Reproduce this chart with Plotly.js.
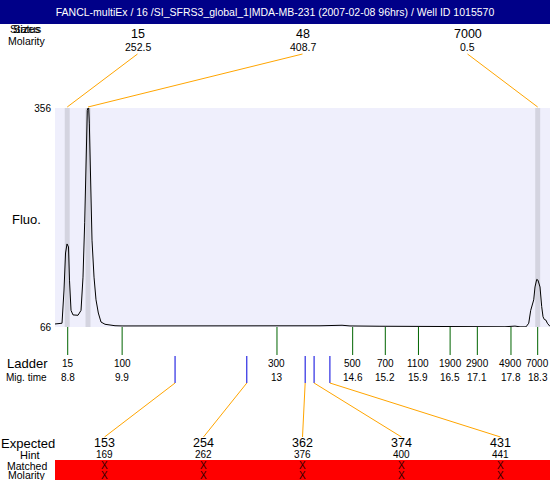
<!DOCTYPE html>
<html><head><meta charset="utf-8">
<script src="https://cdn.plot.ly/plotly-3.0.1.min.js"></script>
<style>html,body{margin:0;padding:0;background:#fff}#chart{width:550px;height:480px}</style>
</head><body><div id="chart"></div>
<script>
// ---- data ----
const titleText = 'FANCL-multiEx / 16 /SI_SFRS3_global_1|MDA-MB-231 (2007-02-08 96hrs) / Well ID 1015570';
const traceTime = [8.543, 8.685, 8.725, 8.756, 8.786, 8.816, 8.836, 8.867, 8.907, 9.008, 9.069, 9.109, 9.143, 9.169, 9.196, 9.210, 9.224, 9.237, 9.265, 9.291, 9.332, 9.372, 9.419, 9.473, 9.554, 9.756, 9.898, 10.059, 10.969, 11.919, 12.687, 13.192, 13.495, 13.900, 14.345, 14.506, 15.112, 15.921, 16.204, 16.325, 16.932, 17.477, 17.639, 17.841, 17.943, 18.064, 18.119, 18.159, 18.220, 18.246, 18.280, 18.306, 18.347, 18.381, 18.408, 18.434, 18.468, 18.495, 18.535, 18.549];
const traceFluo = [70, 71, 115, 164, 176, 172, 128, 88, 82, 81.5, 88, 132, 204, 291, 353, 356, 356, 336, 247, 181, 132, 102, 84.5, 72.6, 69.6, 67.7, 67.4, 67.4, 67.3, 67.0, 67.4, 67.8, 67.2, 67.6, 68.3, 67.4, 67.0, 66.7, 67.1, 66.5, 66.5, 66.9, 66.3, 67.2, 66.2, 66.2, 71, 88, 102, 119, 129, 128, 119, 93, 79.6, 76, 75, 71, 67.3, 66.8];
const peakSizes = ['15', '48', '7000'];
const peakMolarity = ['252.5', '408.7', '0.5'];
const peakTimes = [8.79, 9.21, 18.30];
const ladderSizes = ['15', '100', '300', '500', '700', '1100', '1900', '2900', '4900', '7000'];
const ladderTimes = [8.80, 9.90, 13.03, 14.56, 15.22, 15.89, 16.53, 17.08, 17.76, 18.30];
const expectedSizes = ['153', '254', '362', '374', '431'];
const hintSizes = ['169', '262', '376', '400', '441'];
const expectedTimes = [10.97, 12.42, 13.60, 13.78, 14.10];
const matchedMarks = ['X', 'X', 'X', 'X', 'X'];
const molarityMarks = ['X', 'X', 'X', 'X', 'X'];
const fluoTicks = [66, 356];
const timeRange = [8.543, 18.549];

// ---- geometry helpers ----
const W = 550, H = 480, ML = 55, MR = 0, MT = 108, MB = 153;
const PW = W - ML - MR, PH = H - MT - MB;
const pyP = py => (H - MB - py) / PH;          // pixel y -> paper y
const pxP = px => (px - ML) / PW;              // pixel x -> paper x
const fracT = f => timeRange[0] + f * (timeRange[1] - timeRange[0]);
const FONT = 'Liberation Sans, Arial, sans-serif';

const shapes = [];
const ann = [];
function txt(x, y, text, size, xref, color) {
  ann.push({x: x, y: y, xref: xref || 'paper', yref: 'paper', text: text, showarrow: false,
    xanchor: 'center', yanchor: 'middle', borderpad: 0,
    font: {family: FONT, size: size, color: color || '#000'}});
}

// header band
shapes.push({type: 'rect', xref: 'paper', yref: 'paper', x0: pxP(0), x1: 1, y0: pyP(24), y1: pyP(0),
  fillcolor: '#000088', line: {width: 0}});
// grey bands at detected peaks
peakTimes.forEach(t => shapes.push({type: 'rect', xref: 'x', yref: 'paper', x0: t - 0.05, x1: t + 0.05,
  y0: 0, y1: 1, fillcolor: '#D4D4E0', line: {width: 0}, layer: 'below'}));
// top connectors and labels
peakTimes.forEach((t, i) => {
  const f = (i + 0.5) / peakTimes.length;
  shapes.push({type: 'line', xref: 'x', yref: 'paper', x0: fracT(f), y0: pyP(54), x1: t, y1: pyP(107),
    line: {color: '#FFA500', width: 1}});
  txt(f, pyP(34), peakSizes[i], 12.5);
  txt(f, pyP(47), peakMolarity[i], 10.5);
});
// ladder ticks
ladderTimes.forEach((t, i) => {
  shapes.push({type: 'line', xref: 'x', yref: 'paper', x0: t, x1: t, y0: pyP(327), y1: pyP(355),
    line: {color: '#006400', width: 1}});
  txt(t, pyP(363), ladderSizes[i], 10, 'x');
  txt(t, pyP(377), String(Number(t.toFixed(1))), 10, 'x');
});
// expected markers and connectors
expectedTimes.forEach((t, i) => {
  const f = (i + 0.5) / expectedTimes.length;
  shapes.push({type: 'line', xref: 'x', yref: 'paper', x0: t, x1: t, y0: pyP(356), y1: pyP(383),
    line: {color: '#0000DD', width: 1}});
  shapes.push({type: 'line', xref: 'x', yref: 'paper', x0: t, y0: pyP(383), x1: fracT(f), y1: pyP(437),
    line: {color: '#FFA500', width: 1}});
});
// red band
shapes.push({type: 'rect', xref: 'paper', yref: 'paper', x0: 0, x1: 1, y0: pyP(480), y1: pyP(460),
  fillcolor: '#FF0000', line: {width: 0}});
expectedSizes.forEach((s, i) => {
  const f = (i + 0.5) / expectedSizes.length;
  txt(f, pyP(443), s, 12.5);
  txt(f, pyP(454.5), hintSizes[i], 10);
  txt(f, pyP(465.5), matchedMarks[i], 10, 'paper', '#330000');
  txt(f, pyP(475), molarityMarks[i], 10, 'paper', '#330000');
});
// left labels
txt(pxP(26), pyP(29), 'Status', 11);
txt(pxP(26), pyP(29), 'Sizes', 11);
txt(pxP(27), pyP(41), 'Molarity', 10.5);
txt(pxP(26.5), pyP(219), 'Fluo.', 13);
txt(pxP(27), pyP(363), 'Ladder', 13);
txt(pxP(26.5), pyP(377), 'Mig. time', 10);
txt(pxP(27.5), pyP(443), 'Expected', 13);
txt(pxP(30), pyP(454.5), 'Hint', 11);
txt(pxP(27), pyP(465.5), 'Matched', 10.5);
txt(pxP(27), pyP(475), 'Molarity', 10.5);

const data = [{type: 'scatter', mode: 'lines', x: traceTime, y: traceFluo,
  line: {color: '#000', width: 1}, hoverinfo: 'skip', showlegend: false}];

const layout = {
  width: W, height: H, margin: {l: ML, r: MR, t: MT, b: MB, pad: 0},
  paper_bgcolor: '#FFFFFF', plot_bgcolor: '#EFEFFC',
  font: {family: FONT, size: 11, color: '#000'},
  title: {text: titleText, x: 0.5, xref: 'container', y: 1 - 12 / H, yref: 'container', yanchor: 'middle',
    xanchor: 'center', font: {family: FONT, size: 10.5, color: '#FFFFFF'}},
  xaxis: {range: timeRange, visible: false, showgrid: false, zeroline: false, fixedrange: true},
  yaxis: {range: fluoTicks, tickvals: fluoTicks, ticktext: fluoTicks.map(String), ticks: '',
    ticklabelstandoff: 3,
    showgrid: false, zeroline: false, showline: false, tickfont: {family: FONT, size: 10}, fixedrange: true},
  shapes: shapes, annotations: ann, showlegend: false
};
Plotly.newPlot('chart', data, layout, {displayModeBar: false, staticPlot: true});
</script>
</body></html>
